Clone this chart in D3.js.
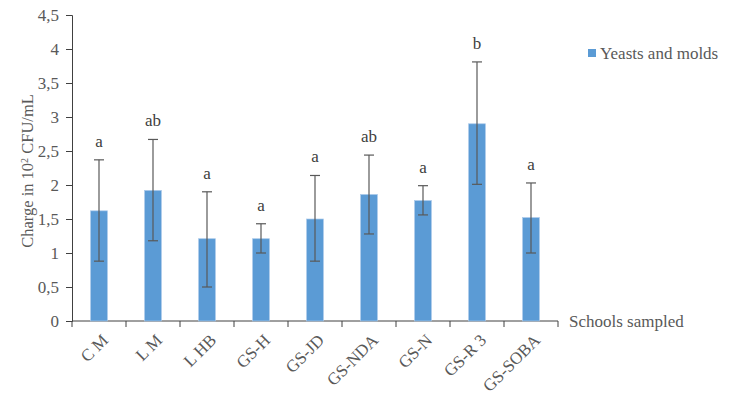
<!DOCTYPE html>
<html>
<head>
    <script src="https://d3js.org/d3.v7.min.js"></script>
    <style>
        body { margin: 0; background: #fff; }
        text { font-family: "Liberation Serif", "Times New Roman", serif; }
    </style>
</head>
<body>
    <div id="chart"></div>
    <script>
        // data
        var schools = ["C M", "L M", "L HB", "GS-H", "GS-JD", "GS-NDA", "GS-N", "GS-R 3", "GS-SOBA"];
        var means = [1.62, 1.92, 1.21, 1.21, 1.50, 1.86, 1.77, 2.90, 1.52];
        var errHigh = [2.37, 2.67, 1.90, 1.43, 2.14, 2.44, 1.99, 3.81, 2.03];
        var errLow = [0.88, 1.18, 0.50, 1.00, 0.88, 1.28, 1.56, 2.01, 1.00];
        var letters = ["a", "ab", "a", "a", "a", "ab", "a", "b", "a"];
        var yTicks = [0, 0.5, 1, 1.5, 2, 2.5, 3, 3.5, 4, 4.5];

        var W = 735, H = 396;
        var margin = { top: 15, left: 72, right: 177, bottom: 75 },
            width = W - margin.left - margin.right,
            height = H - margin.top - margin.bottom;

        var svg = d3.select("#chart").append("svg")
            .attr("width", W)
            .attr("height", H);

        var g = svg.append("g")
            .attr("transform", "translate(" + margin.left + "," + margin.top + ")");

        var x = d3.scaleBand()
            .domain(schools)
            .range([0, width])
            .paddingInner(0.69)
            .paddingOuter(0.345);

        var xCat = d3.scaleBand().domain(schools).range([0, width]);

        var y = d3.scaleLinear()
            .domain([0, 4.5])
            .range([height, 0]);

        var axisColor = "#404040", textColor = "#595959";

        // y axis
        var yAxis = g.append("g")
            .call(d3.axisLeft(y).tickValues(yTicks).tickSize(6)
                .tickFormat(function (d) { return String(d).replace(".", ","); }));
        yAxis.select(".domain").attr("stroke", axisColor);
        yAxis.selectAll(".tick line").attr("stroke", axisColor);
        yAxis.selectAll("text")
            .attr("x", -13)
            .style("font-size", "17px")
            .style("font-family", "Liberation Serif")
            .attr("fill", textColor);

        // x axis: ticks between categories
        var xAxisG = g.append("g").attr("transform", "translate(0," + height + ")");
        xAxisG.append("line")
            .attr("x1", 0).attr("x2", width)
            .attr("stroke", axisColor);
        xAxisG.selectAll(".xtick")
            .data(d3.range(schools.length + 1))
            .enter().append("line")
            .attr("x1", function (i) { return i * xCat.bandwidth(); })
            .attr("x2", function (i) { return i * xCat.bandwidth(); })
            .attr("y1", 0).attr("y2", 6)
            .attr("stroke", axisColor);

        xAxisG.selectAll(".xlab")
            .data(schools)
            .enter().append("text")
            .attr("transform", function (d) {
                return "translate(" + (xCat(d) + xCat.bandwidth() / 2 + 6) + ",16) rotate(-45)";
            })
            .attr("text-anchor", "end")
            .attr("dy", "0.35em")
            .style("font-size", "17px")
            .attr("fill", textColor)
            .text(function (d) { return d; });

        // bars
        g.selectAll(".bar")
            .data(schools)
            .enter().append("rect")
            .attr("x", function (d) { return x(d); })
            .attr("width", x.bandwidth())
            .attr("y", function (d, i) { return y(means[i]); })
            .attr("height", function (d, i) { return height - y(means[i]); })
            .attr("fill", "#5b9bd5")
            .attr("stroke", "#a9c8ea")
            .attr("stroke-width", 0.7);

        // error bars
        var eb = g.selectAll(".err")
            .data(schools)
            .enter().append("g")
            .attr("transform", function (d) { return "translate(" + (x(d) + x.bandwidth() / 2) + ",0)"; });
        eb.append("line")
            .attr("y1", function (d, i) { return y(errHigh[i]); })
            .attr("y2", function (d, i) { return y(errLow[i]); })
            .attr("stroke", "#595959").attr("stroke-width", 1.2);
        eb.append("line")
            .attr("x1", -5).attr("x2", 5)
            .attr("y1", function (d, i) { return y(errHigh[i]); })
            .attr("y2", function (d, i) { return y(errHigh[i]); })
            .attr("stroke", "#595959").attr("stroke-width", 1.2);
        eb.append("line")
            .attr("x1", -5).attr("x2", 5)
            .attr("y1", function (d, i) { return y(errLow[i]); })
            .attr("y2", function (d, i) { return y(errLow[i]); })
            .attr("stroke", "#595959").attr("stroke-width", 1.2);

        // significance letters
        eb.append("text")
            .attr("y", function (d, i) { return y(errHigh[i]) - 13; })
            .attr("text-anchor", "middle")
            .style("font-size", "17px")
            .attr("fill", "#404040")
            .text(function (d, i) { return letters[i]; });

        // axis titles
        svg.append("text")
            .attr("transform", "translate(27," + (margin.top + 156) + ") rotate(-90)")
            .attr("text-anchor", "middle")
            .attr("dy", "0.35em")
            .style("font-size", "16.5px")
            .attr("fill", textColor)
            .html("Charge in 10<tspan baseline-shift='super' font-size='10px'>2</tspan> CFU/mL");

        svg.append("text")
            .attr("x", margin.left + width + 11)
            .attr("y", margin.top + height + 6)
            .style("font-size", "17px")
            .attr("fill", textColor)
            .text("Schools sampled");

        // legend
        var legend = svg.append("g").attr("transform", "translate(588,53)");
        legend.append("rect")
            .attr("x", 0).attr("y", -4)
            .attr("width", 8).attr("height", 8)
            .attr("fill", "#5b9bd5");
        legend.append("text")
            .attr("x", 12)
            .attr("dy", "0.35em")
            .style("font-size", "17px")
            .attr("fill", textColor)
            .text("Yeasts and molds");
    </script>
</body>
</html>
